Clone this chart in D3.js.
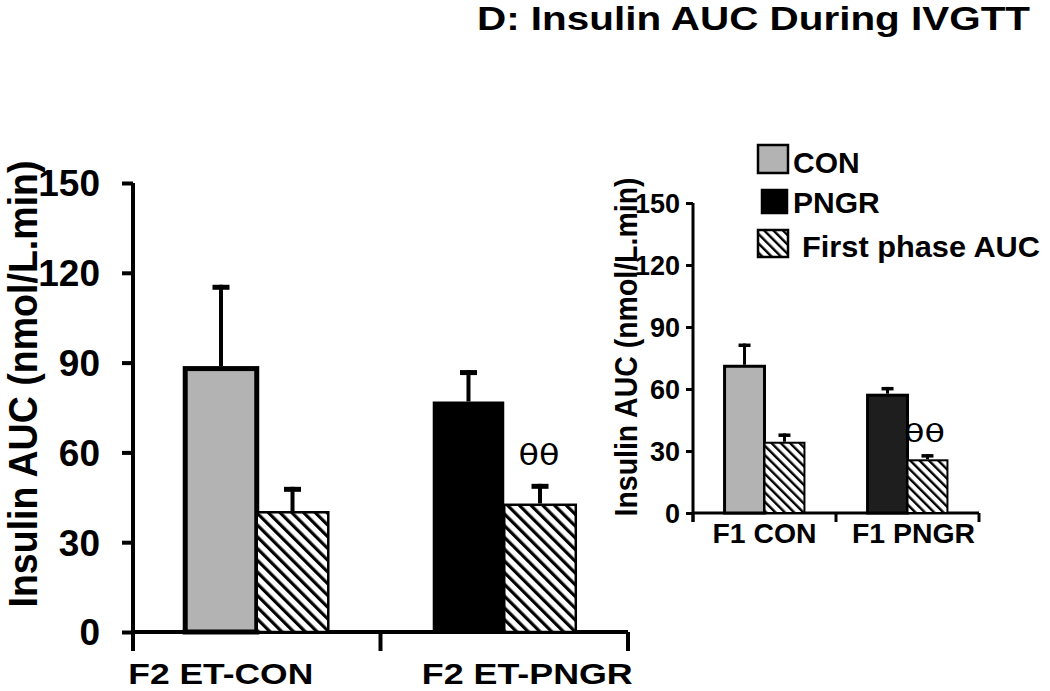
<!DOCTYPE html>
<html><head><meta charset="utf-8">
<script src="https://cdn.jsdelivr.net/npm/d3@7"></script>
<style>
html,body{margin:0;padding:0;background:#fff;}
text{font-family:"Liberation Sans",Arial,Helvetica,sans-serif;font-weight:bold;fill:#000;}
text.sig{font-family:"DejaVu Sans",sans-serif;font-weight:normal;}
</style></head>
<body>
<svg id="c" width="1050" height="691"></svg>
<script>
// ---- data ----
const title = "D: Insulin AUC During IVGTT";
const yLabel = "Insulin AUC (nmol/L.min)";
const yTicks = [0, 30, 60, 90, 120, 150];
const seriesNames = ["CON", "PNGR", "First phase AUC"];

const mainCategories = ["F2 ET-CON", "F2 ET-PNGR"];
const mainTotal = [88, 77];
const mainTotalErr = [28, 10.5];
const mainFirst = [40, 42.5];
const mainFirstErr = [8.5, 7];
const mainSig = ["", "θθ"];

const insetCategories = ["F1 CON", "F1 PNGR"];
const insetTotal = [71, 57];
const insetTotalErr = [11, 4];
const insetFirst = [34, 25.5];
const insetFirstErr = [4.5, 3];
const insetSig = ["", "θθ"];

// ---- drawing ----
const svg = d3.select("#c");
const defs = svg.append("defs");
function hatch(id, spacing, width) {
  const p = defs.append("pattern").attr("id", id).attr("patternUnits", "userSpaceOnUse")
    .attr("width", spacing).attr("height", spacing).attr("patternTransform", "rotate(-45)");
  p.append("rect").attr("width", spacing).attr("height", spacing).attr("fill", "#fff");
  p.append("rect").attr("x", 0).attr("y", 0).attr("width", width).attr("height", spacing).attr("fill", "#000");
}
hatch("hMain", 8.3, 3.2);
hatch("hInset", 6.6, 2.4);

svg.append("text").attr("x", 477).attr("y", 30).attr("font-size", 33)
  .attr("textLength", 553).attr("lengthAdjust", "spacingAndGlyphs").text(title);

function panel(o) {
  const g = svg.append("g");
  const y = d3.scaleLinear().domain([0, 150]).range([o.y0, o.y150]);
  const x0 = d3.scaleBand().domain(o.cats).range([o.xL, o.xR]).padding(0);
  const x1 = d3.scaleBand().domain(["total", "first"]).range([0, x0.bandwidth()])
    .paddingInner(0).paddingOuter(o.pad);

  // y axis
  const ax = g.append("g").attr("transform", `translate(${o.xL},0)`)
    .call(d3.axisLeft(y).tickValues(yTicks).tickSize(o.tick).tickSizeOuter(0).tickPadding(o.tpad));
  ax.attr("font-family", null).attr("font-size", null);
  ax.selectAll("path,line").attr("stroke", "#000").attr("stroke-width", o.aw);
  ax.selectAll("text").style("font-size", o.tfs + "px").attr("dy", "0.35em");
  ax.select("path.domain").attr("d", `M0,${o.y150}V${o.y0 + o.xtick}`);

  // x axis
  g.append("line").attr("x1", o.xL).attr("x2", o.xR).attr("y1", o.y0).attr("y2", o.y0)
    .attr("stroke", "#000").attr("stroke-width", o.aw);
  const bounds = o.cats.map(c => x0(c)).concat([o.xR]);
  g.selectAll(".xt").data(bounds).enter().append("line")
    .attr("x1", d => d).attr("x2", d => d).attr("y1", o.y0).attr("y2", o.y0 + o.xtick)
    .attr("stroke", "#000").attr("stroke-width", o.aw);

  // bars
  o.cats.forEach((c, i) => {
    const gx = x0(c);
    const bw = x1.bandwidth();
    const xt = gx + x1("total");
    g.append("rect").attr("x", xt).attr("y", y(o.total[i])).attr("width", bw)
      .attr("height", y(0) - y(o.total[i]))
      .attr("fill", i === 0 ? "#b3b3b3" : o.black)
      .attr("stroke", "#000").attr("stroke-width", i === 0 ? o.sw : o.swBlack);
    const xf = gx + x1("first");
    g.append("rect").attr("x", xf).attr("y", y(o.first[i])).attr("width", bw)
      .attr("height", y(0) - y(o.first[i]))
      .attr("fill", `url(#${o.hatch})`).attr("stroke", "#000").attr("stroke-width", o.hw);
    [[xt, o.total[i], o.totalErr[i], i === 0 ? o.sw : o.swBlack],
     [xf, o.first[i], o.firstErr[i], o.hw]].forEach(([bx, v, e, s]) => {
      const cx = bx + bw / 2;
      g.append("line").attr("x1", cx).attr("x2", cx).attr("y1", y(v) - s / 2).attr("y2", y(v + e))
        .attr("stroke", "#000").attr("stroke-width", o.ew);
      g.append("line").attr("x1", cx - o.cap / 2).attr("x2", cx + o.cap / 2)
        .attr("y1", y(v + e) + o.ct / 2).attr("y2", y(v + e) + o.ct / 2)
        .attr("stroke", "#000").attr("stroke-width", o.ct);
    });
    if (o.sig[i]) {
      g.append("text").attr("class", "sig").attr("x", xf + bw / 2 + o.sigDx).attr("y", y(o.first[i] + o.firstErr[i]) - o.sigDy)
        .attr("text-anchor", "middle").attr("font-size", o.sigFs)
        .attr("textLength", o.sigLen).attr("lengthAdjust", "spacingAndGlyphs").text(o.sig[i]);
    }
    g.append("text").attr("x", gx + x0.bandwidth() / 2 + o.labShift[i]).attr("y", o.labY)
      .attr("text-anchor", "middle").attr("font-size", o.lfs)
      .attr("textLength", o.labLen[i]).attr("lengthAdjust", "spacingAndGlyphs").text(c);
  });

  // y label
  g.append("text").attr("transform", `translate(${o.ylx},${o.yly}) rotate(-90)`)
    .attr("text-anchor", "middle").attr("font-size", o.ylfs)
    .attr("textLength", o.ylLen).attr("lengthAdjust", "spacingAndGlyphs").text(yLabel);
}

panel({
  cats: mainCategories, total: mainTotal, totalErr: mainTotalErr, first: mainFirst, firstErr: mainFirstErr, sig: mainSig,
  y0: 632, y150: 183, xL: 133, xR: 628, pad: 0.73,
  tick: 11, tpad: 22, aw: 4, tfs: 37, xtick: 19,
  black: "#000", sw: 5, swBlack: 0, hw: 2.5, hatch: "hMain",
  ew: 4, cap: 17, ct: 5,
  sigDx: -1, sigDy: 19, sigFs: 28, sigLen: 41,
  labShift: [-36, 23], labY: 684, lfs: 30, labLen: [185, 211],
  ylx: 37, yly: 384, ylfs: 40, ylLen: 447
});

panel({
  cats: insetCategories, total: insetTotal, totalErr: insetTotalErr, first: insetFirst, firstErr: insetFirstErr, sig: insetSig,
  y0: 513, y150: 203, xL: 693, xR: 979, pad: 0.79,
  tick: 7, tpad: 6, aw: 3, tfs: 27, xtick: 9,
  black: "#1e1e1e", sw: 3, swBlack: 3, hw: 2, hatch: "hInset",
  ew: 3, cap: 12, ct: 3.5,
  sigDx: -3, sigDy: 12, sigFs: 25, sigLen: 41,
  labShift: [0, 6], labY: 543, lfs: 28, labLen: [104, 123],
  ylx: 637, yly: 347, ylfs: 32, ylLen: 339
});

// legend
const leg = svg.append("g");
const legFill = ["#b3b3b3", "#000", "url(#hInset)"];
const legBox = [[758, 145, 30, 28], [762, 190, 25, 23], [758, 230, 30, 27]];
const legText = [[793, 173, null], [793, 213, null], [802, 257, 238]];
seriesNames.forEach((n, i) => {
  const b = legBox[i];
  leg.append("rect").attr("x", b[0]).attr("y", b[1]).attr("width", b[2]).attr("height", b[3])
    .attr("fill", legFill[i]).attr("stroke", "#000").attr("stroke-width", 2.5);
  const t = leg.append("text").attr("x", legText[i][0]).attr("y", legText[i][1]).attr("font-size", 30).text(n);
  if (legText[i][2]) t.attr("textLength", legText[i][2]).attr("lengthAdjust", "spacingAndGlyphs");
});
</script>
</body></html>
